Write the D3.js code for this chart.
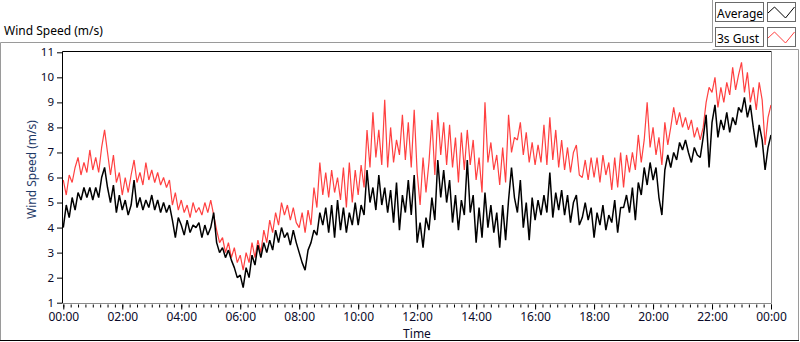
<!DOCTYPE html>
<html>
<head>
<meta charset="utf-8">
<script src="https://cdn.jsdelivr.net/npm/d3@7"></script>
<style>
  body { margin: 0; background: #fff; }
  svg { display: block; font-family: "Segoe UI", "Noto Sans", sans-serif; }
</style>
</head>
<body>
<div id="chart"></div>
<script>
// samples every 6 minutes, 00:00 .. 24:00 (10 per hour)
const sampleStep = 0.1;

const gust = [
  5.9, 5.3, 6.1, 5.8, 6.4, 6.8, 6.1, 6.6, 6.2, 7.1,
  6.3, 6.8, 6.2, 7.2, 7.9, 7.0, 6.1, 6.9, 5.8, 6.2,
  5.3, 6.0, 5.4, 6.1, 6.7, 5.8, 6.2, 5.7, 6.6, 5.9,
  6.3, 5.8, 6.2, 5.7, 6.0, 5.6, 5.9, 4.9, 5.4, 4.7,
  5.1, 4.6, 4.9, 4.4, 5.0, 4.6, 4.8, 4.5, 5.0, 4.6,
  5.1, 4.5, 3.9, 3.4, 3.6, 3.0, 3.4, 2.8, 3.2, 2.6,
  2.9, 2.3, 3.0, 2.6, 3.4, 2.8, 3.5, 3.0, 3.9, 3.4,
  4.3, 3.8, 4.6, 4.1, 5.0, 4.5, 4.9, 4.3, 4.8, 4.2,
  4.0, 4.6, 3.8, 4.7, 4.1, 5.6, 4.8, 6.6, 5.3, 6.2,
  5.2, 6.3, 5.4, 6.0, 5.1, 6.4, 4.8, 6.6, 5.0, 6.3,
  5.3, 6.5, 5.6, 7.9, 6.4, 8.6, 6.8, 7.9, 6.5, 9.1,
  6.4, 8.0, 6.6, 7.5, 6.9, 8.5, 6.7, 8.2, 6.4, 8.7,
  6.2, 4.9, 6.8, 5.4, 6.6, 8.3, 6.1, 8.6, 6.9, 8.2,
  6.5, 8.1, 6.4, 7.6, 5.8, 7.8, 6.3, 7.9, 6.5, 7.5,
  5.9, 6.8, 5.4, 9.0, 6.6, 7.4, 6.3, 6.9, 5.7, 7.2,
  5.8, 8.5, 7.0, 7.6, 7.5, 8.2, 6.9, 7.8, 6.6, 7.4,
  6.5, 7.3, 6.6, 8.1, 6.5, 8.4, 6.7, 7.9, 6.4, 7.5,
  6.3, 7.2, 6.2, 7.0, 7.3, 6.1, 6.0, 6.7, 5.9, 6.8,
  6.0, 6.8, 5.8, 6.9, 6.1, 6.6, 5.5, 6.8, 5.6, 7.0,
  5.6, 6.9, 6.2, 7.0, 6.3, 7.7, 6.6, 7.5, 9.0, 7.2,
  8.0, 6.9, 7.6, 6.5, 8.2, 7.3, 8.0, 8.8, 8.1, 8.6,
  8.0, 8.4, 7.9, 8.3, 7.6, 8.0, 7.5, 8.0, 9.0, 9.6,
  9.4, 10.0, 8.8, 9.6, 9.0, 9.8, 9.3, 10.4, 9.5, 10.1,
  10.6, 9.4, 10.2, 9.0, 9.6, 8.7, 9.8, 9.1, 7.3, 8.4,
  8.9
];

const average = [
  4.0, 4.9, 4.4, 5.2, 4.7, 5.4, 5.1, 5.6, 5.2, 5.6,
  5.1, 5.6, 5.2, 6.0, 6.4, 5.6, 5.0, 5.7, 4.6, 5.3,
  4.7, 5.1, 4.5, 4.9, 5.9, 4.8, 5.2, 4.7, 5.1, 4.8,
  5.3, 4.7, 5.1, 4.6, 5.0, 4.6, 4.9, 4.3, 3.6, 4.4,
  4.1, 3.7, 4.3, 3.8, 4.1, 4.0, 4.2, 3.6, 4.1, 3.7,
  4.0, 4.6, 3.4, 3.0, 3.2, 2.8, 3.1, 2.7, 2.4, 2.0,
  2.1, 1.6, 2.4, 2.0, 2.9, 2.5, 3.3, 2.8, 3.4, 3.0,
  3.5, 3.1, 3.9, 3.4, 4.0, 3.6, 3.8, 3.3, 3.9, 3.4,
  3.0, 2.6, 2.3, 3.1, 3.4, 3.9, 3.7, 4.6, 4.1, 4.8,
  3.8, 4.9, 3.6, 5.1, 3.9, 4.8, 3.8, 4.6, 4.1, 5.0,
  4.1, 4.9, 4.5, 6.3, 5.0, 5.6, 4.7, 6.1, 4.9, 5.6,
  4.6, 5.5, 4.2, 5.8, 3.9, 5.3, 4.6, 5.9, 4.5, 6.1,
  3.4, 4.2, 3.2, 4.4, 3.9, 5.2, 4.3, 6.7, 5.2, 6.3,
  5.0, 5.9, 4.2, 5.3, 3.9, 5.1, 4.5, 6.7, 4.6, 5.3,
  3.4, 4.8, 3.6, 5.4, 4.0, 4.9, 3.8, 4.6, 3.2, 4.9,
  3.5, 5.1, 6.4, 5.2, 4.6, 5.9, 4.0, 5.0, 3.5, 5.2,
  4.3, 5.1, 4.5, 5.3, 4.6, 6.2, 4.4, 5.4, 4.7, 5.5,
  4.5, 5.3, 4.2, 5.0, 5.3, 4.1, 4.4, 5.0, 4.3, 4.8,
  3.6, 4.6, 4.1, 4.9, 3.9, 4.5, 4.2, 5.1, 3.8, 4.8,
  4.8, 5.3, 4.6, 5.6, 4.3, 5.8, 5.3, 6.4, 5.7, 6.6,
  5.9, 6.4, 5.2, 4.5, 6.3, 6.9, 6.4, 7.0, 6.7, 7.4,
  7.1, 7.5, 7.0, 6.6, 7.2, 6.9, 6.8, 7.6, 8.5, 6.4,
  8.2, 8.9, 7.6, 8.3, 7.9, 8.6, 7.8, 8.4, 8.1, 8.8,
  8.6, 9.2, 8.4, 8.9, 8.0, 7.2, 8.1, 7.5, 6.3, 7.2,
  7.7
];

const yTicks = [1, 2, 3, 4, 5, 6, 7, 8, 9, 10, 11];
const xMajorHours = [0, 2, 4, 6, 8, 10, 12, 14, 16, 18, 20, 22, 24];
const seriesNames = ['Average', '3s Gust'];
const seriesColors = ['#000000', '#ff4040'];

const W = 800, H = 342;
const plot = {left: 63, top: 52, right: 771, bottom: 303};

const svg = d3.select('#chart').append('svg')
  .attr('width', W)
  .attr('height', H);

// outer frame
svg.append('path')
  .attr('d', 'M0.5,341 V42.5 H712.5 V0')
  .attr('fill', 'none').attr('stroke', '#9a9a9a');
svg.append('path')
  .attr('d', 'M712.5,49.5 H798.5 V340.5 H0')
  .attr('fill', 'none').attr('stroke', '#9a9a9a');
svg.append('line')
  .attr('x1', 0).attr('x2', 799).attr('y1', 340.5).attr('y2', 340.5)
  .attr('stroke', '#000');

svg.append('text')
  .attr('x', 4).attr('y', 35)
  .style('font-size', '12px')
  .text('Wind Speed (m/s)');

const x = d3.scaleLinear()
  .domain([0, 24])
  .range([plot.left + 0.3, plot.right]);

const y = d3.scaleLinear()
  .domain([1, 11])
  .range([plot.bottom - 0.3, plot.top + 0.3]);

svg.append('rect')
  .attr('x', plot.left).attr('y', plot.top)
  .attr('width', plot.right - plot.left).attr('height', plot.bottom - plot.top)
  .attr('fill', '#fff');

// minor ticks every 15 minutes
const gx = svg.append('g')
  .attr('transform', 'translate(0,' + (plot.bottom + 0.5) + ')');
gx.call(d3.axisBottom(x)
  .tickValues(d3.range(0, 24.01, 0.25))
  .tickSize(3)
  .tickFormat(''));
gx.call(g => g.select('.domain').remove());
gx.selectAll('.tick line').attr('stroke', '#000').attr('y1', 1).attr('y2', 4);

// major ticks every 2 hours
const gx2 = svg.append('g')
  .attr('transform', 'translate(0,' + (plot.bottom + 0.5) + ')');
gx2.call(d3.axisBottom(x)
  .tickValues(xMajorHours)
  .tickSize(6)
  .tickPadding(3)
  .tickFormat(d => d3.format('02d')(d % 24) + ':00'));
gx2.call(g => g.select('.domain').remove());
gx2.selectAll('.tick line').attr('stroke', '#000').attr('y1', 1).attr('y2', 6);
gx2.selectAll('.tick text')
  .attr('fill', '#0a0a2a')
  .style('font-family', '"Segoe UI", "Noto Sans", sans-serif')
  .style('font-size', '12px');

const gy = svg.append('g')
  .attr('transform', 'translate(' + (plot.left - 1) + ',0)');
gy.call(d3.axisLeft(y)
  .tickValues(yTicks)
  .tickSize(5)
  .tickPadding(3)
  .tickFormat(d3.format('d')));
gy.call(g => g.select('.domain').remove());
gy.selectAll('.tick line').attr('stroke', '#000');
gy.selectAll('.tick text')
  .attr('fill', '#0a0a2a')
  .attr('dy', '0.3em')
  .style('font-family', '"Segoe UI", "Noto Sans", sans-serif')
  .style('font-size', '11.5px');

svg.append('text')
  .attr('transform', 'translate(36,' + ((plot.top + plot.bottom) / 2 - 8) + ') rotate(-90)')
  .attr('text-anchor', 'middle')
  .attr('fill', '#1f3a68')
  .style('font-size', '12px')
  .text('Wind Speed (m/s)');

svg.append('text')
  .attr('x', (plot.left + plot.right) / 2)
  .attr('y', 338)
  .attr('text-anchor', 'middle')
  .attr('fill', '#0a0a2a')
  .style('font-size', '12px')
  .text('Time');

// series
const line = d3.line()
  .x((d, i) => x(i * sampleStep))
  .y(d => y(d));

svg.append('clipPath').attr('id', 'plotclip')
  .append('rect')
  .attr('x', plot.left).attr('y', plot.top)
  .attr('width', plot.right - plot.left).attr('height', plot.bottom - plot.top);

const seriesG = svg.append('g').attr('clip-path', 'url(#plotclip)');
seriesG.append('path')
  .datum(gust)
  .attr('fill', 'none')
  .attr('stroke', seriesColors[1])
  .attr('stroke-width', 1.2)
  .attr('stroke-linejoin', 'bevel')
  .attr('d', line);
seriesG.append('path')
  .datum(average)
  .attr('fill', 'none')
  .attr('stroke', seriesColors[0])
  .attr('stroke-width', 1.5)
  .attr('stroke-linejoin', 'bevel')
  .attr('d', line);

// plot borders: dark top/left, grey bottom/right
svg.append('path')
  .attr('d', 'M' + (plot.left - 0.5) + ',' + plot.bottom + ' V' + (plot.top - 0.5) + ' H' + (plot.right + 0.5))
  .attr('fill', 'none').attr('stroke', '#000');
svg.append('path')
  .attr('d', 'M' + (plot.right + 0.5) + ',' + (plot.top - 0.5) + ' V' + (plot.bottom + 0.5) + ' H' + (plot.left - 1))
  .attr('fill', 'none').attr('stroke', '#8a8a8a');

// legend
const legend = svg.append('g');
seriesNames.forEach((name, i) => {
  const top = 2 + i * 25;
  legend.append('rect')
    .attr('x', 715.5).attr('y', top + 0.5)
    .attr('width', 48).attr('height', 19)
    .attr('fill', '#fff').attr('stroke', '#6a6a6a');
  legend.append('text')
    .attr('x', 717).attr('y', top + 15.5)
    .style('font-size', '12px')
    .attr('fill', '#000')
    .text(name);
  legend.append('rect')
    .attr('x', 767.5).attr('y', top + 0.5)
    .attr('width', 28).attr('height', 19)
    .attr('fill', '#fff').attr('stroke', '#6a6a6a');
  legend.append('path')
    .attr('d', d3.line()([[768, top + 11], [774.5, top + 5], [785.5, top + 16], [794.5, top + 5]]))
    .attr('fill', 'none')
    .attr('stroke', seriesColors[i]);
});
</script>
</body>
</html>
